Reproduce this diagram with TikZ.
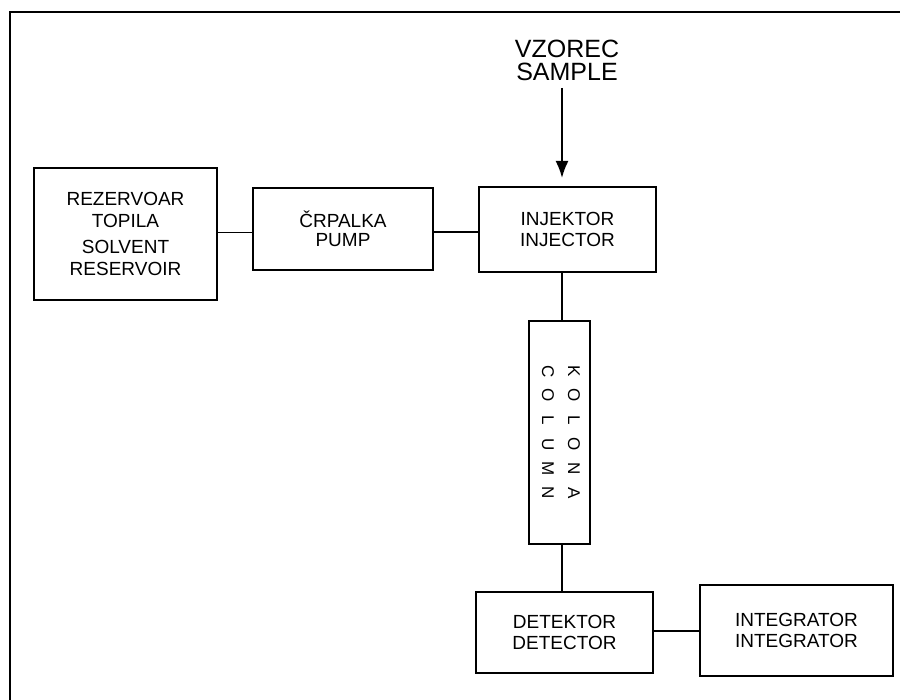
\documentclass[tikz,border=0pt]{standalone}
\usepackage{fontspec}
\setmainfont{Liberation Sans}
\usetikzlibrary{arrows.meta}
\newcommand\lbx[1]{\makebox[24.3pt]{#1}}
\begin{document}
\begin{tikzpicture}[x=1pt,y=-1pt,
  box/.style={draw, line width=2pt, inner sep=0pt, align=center,
    font=\fontsize{19}{21.7}\selectfont},
  link/.style={line width=1.9pt},
  frameline/.style={line width=1.6pt}]
\useasboundingbox (0,0) rectangle (900,700);
% frame (top and left edges)
\draw[frameline] (10,700) -- (10,12) -- (900,12);

\node[box, minimum width=183pt, minimum height=132pt] (res) at (125.5,234)
  {REZERVOAR\\TOPILA\\[5pt]SOLVENT\\RESERVOIR};
\node[box, minimum width=180pt, minimum height=82pt,
  font=\fontsize{19}{18.5}\selectfont] (pump) at (343,229) {ČRPALKA\\PUMP};
\node[box, minimum width=177pt, minimum height=85pt] (inj) at (567.5,229.5)
  {INJEKTOR\\INJECTOR};
\node[box, minimum width=61pt, minimum height=223pt] (col) at (559.5,432.5) {};
\node[rotate=-90, align=center, inner sep=0pt,
  font=\fontsize{17}{26}\selectfont] (coltext) at (561,432)
  {\lbx{K}\lbx{O}\lbx{L}\lbx{O}\lbx{N}\lbx{A}\\\lbx{C}\lbx{O}\lbx{L}\lbx{U}\lbx{M}\lbx{N}};
\node[box, minimum width=177pt, minimum height=81pt] (det) at (564.5,632.5)
  {DETEKTOR\\DETECTOR};
\node[box, minimum width=193pt, minimum height=91pt] (integ) at (796.5,630.5)
  {INTEGRATOR\\INTEGRATOR};

\node[align=center, inner sep=0pt, font=\fontsize{25}{23}\selectfont] (sample)
  at (567,60) {VZOREC\\SAMPLE};
\coordinate (astart) at (562,88);
\coordinate (vx) at (562,0);

% connectors
\draw[link] ([yshift=-3.5pt]pump.west) -- ([yshift=-3.5pt]pump.west -| res.east);
\draw[link] ([yshift=-3pt]pump.east) -- ([yshift=-3pt]pump.east -| inj.west);
\draw[link] (inj.south -| vx) -- (col.north -| vx);
\draw[link] (col.south -| vx) -- (det.north -| vx);
\draw[link] (det.east |- 0,631) -- (integ.west |- 0,631);
\draw[link, -{Latex[length=17pt,width=13pt]}, shorten >=8pt]
  (astart) -- (inj.north -| astart);
\end{tikzpicture}
\end{document}
